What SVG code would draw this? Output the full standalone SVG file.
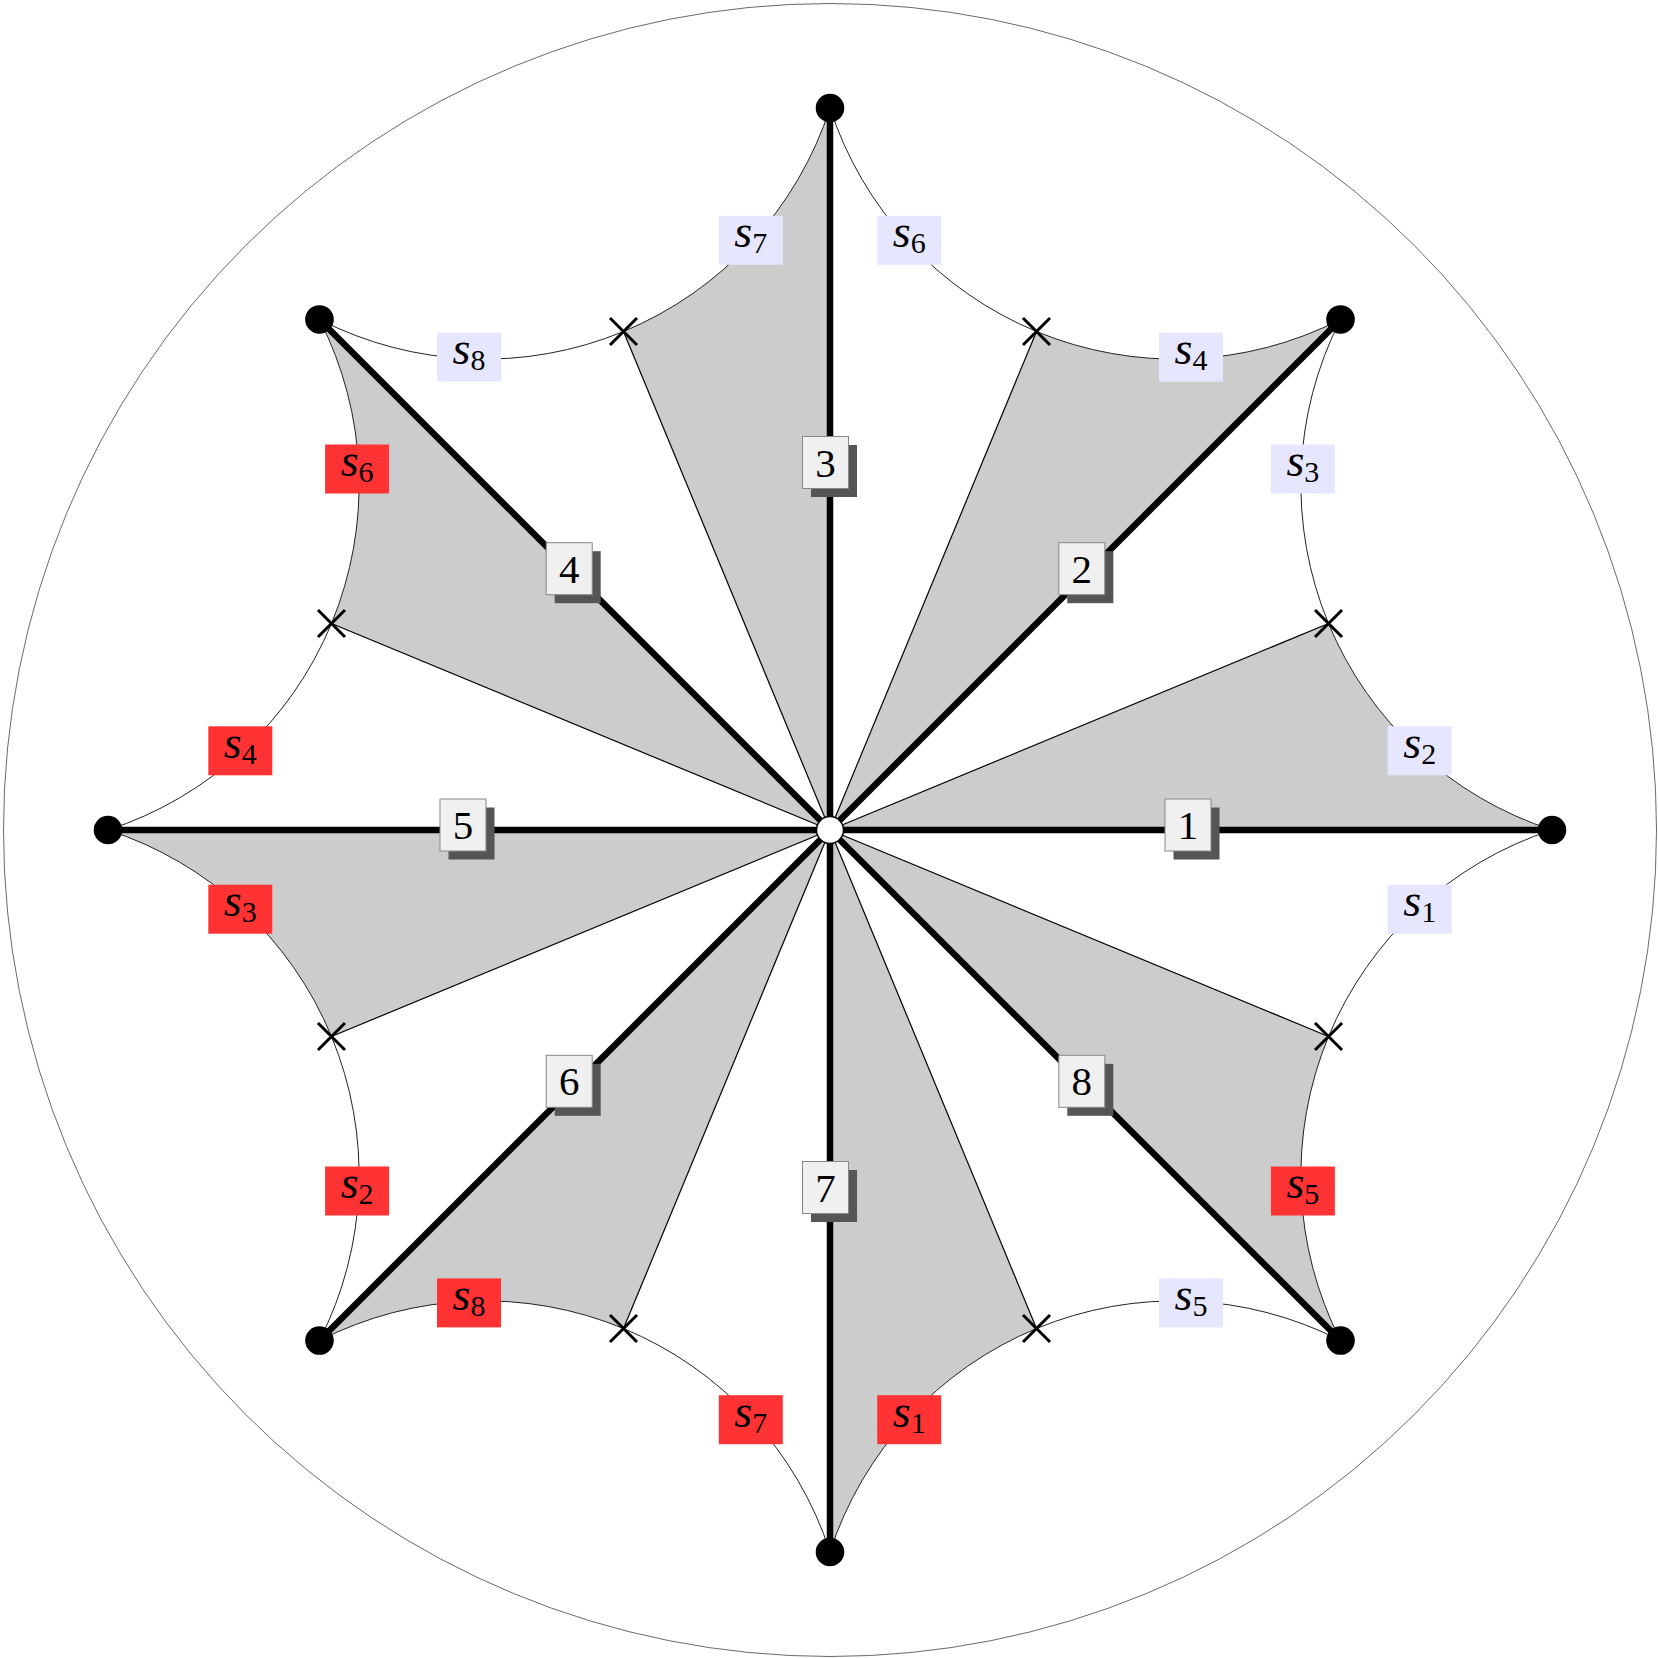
<svg xmlns="http://www.w3.org/2000/svg" xmlns:xlink="http://www.w3.org/1999/xlink" width="1658" height="1658" viewBox="0 0 1658 1658">
<style>
.bg{fill:#fff}
.disk{fill:none;stroke:#444;stroke-width:0.8}
.shade{fill:#cccccc;stroke:none}
.arc{fill:none;stroke:#222;stroke-width:1}
.edge{stroke:#000;stroke-width:1.2}
.spoke{stroke:#000;stroke-width:6.5}
.xm{stroke:#000;stroke-width:3;fill:none}
.vtx{fill:#000}
.ctr{fill:#fff;stroke:#000;stroke-width:1.5}
.lb{fill:#e6e6ff}
.lr{fill:#ff3333}
.box{fill:#f0f0f0;stroke:#888;stroke-width:1}
.shadow{fill:#555}
.s{font-family:"Liberation Serif","Times New Roman",serif;font-size:46px;fill:#000}
.si{font-style:italic}
.sub{font-size:30px}
.num{font-family:"Liberation Serif","Times New Roman",serif;font-size:41px;fill:#000;text-anchor:middle}
</style>
<defs>
<path id="xmark" class="xm" d="M-13.5,-13.5 L13.5,13.5 M-13.5,13.5 L13.5,-13.5"/>
<rect id="sl" x="-32" y="-24.5" width="64" height="49"/>
</defs>
<rect class="bg" x="0" y="0" width="1658" height="1658"/>
<circle id="disk" class="disk" cx="830" cy="830" r="826.5"/>

<g id="shaded">
<path class="shade" d="M830,830 L1328.53,623.50 A363.2,363.2 0 0 0 1552,830 Z"/>
<path class="shade" d="M830,830 L1036.50,331.47 A363.2,363.2 0 0 0 1340.53,319.47 Z"/>
<path class="shade" d="M830,830 L623.50,331.47 A363.2,363.2 0 0 0 830,108 Z"/>
<path class="shade" d="M830,830 L331.47,623.50 A363.2,363.2 0 0 0 319.47,319.47 Z"/>
<path class="shade" d="M830,830 L331.47,1036.50 A363.2,363.2 0 0 0 108,830 Z"/>
<path class="shade" d="M830,830 L623.50,1328.53 A363.2,363.2 0 0 0 319.47,1340.53 Z"/>
<path class="shade" d="M830,830 L1036.50,1328.53 A363.2,363.2 0 0 0 830,1552 Z"/>
<path class="shade" d="M830,830 L1328.53,1036.50 A363.2,363.2 0 0 0 1340.53,1340.53 Z"/>
</g>

<g id="connectors">
<path class="arc" d="M1552,830 A363.2,363.2 0 0 1 1340.53,319.47 A363.2,363.2 0 0 1 830,108 A363.2,363.2 0 0 1 319.47,319.47 A363.2,363.2 0 0 1 108,830 A363.2,363.2 0 0 1 319.47,1340.53 A363.2,363.2 0 0 1 830,1552 A363.2,363.2 0 0 1 1340.53,1340.53 A363.2,363.2 0 0 1 1552,830"/>
<line class="edge" x1="830" y1="830" x2="1328.53" y2="623.50"/>
<line class="edge" x1="830" y1="830" x2="1036.50" y2="331.47"/>
<line class="edge" x1="830" y1="830" x2="623.50" y2="331.47"/>
<line class="edge" x1="830" y1="830" x2="331.47" y2="623.50"/>
<line class="edge" x1="830" y1="830" x2="331.47" y2="1036.50"/>
<line class="edge" x1="830" y1="830" x2="623.50" y2="1328.53"/>
<line class="edge" x1="830" y1="830" x2="1036.50" y2="1328.53"/>
<line class="edge" x1="830" y1="830" x2="1328.53" y2="1036.50"/>
<line class="spoke" x1="830" y1="830" x2="1552" y2="830"/>
<line class="spoke" x1="830" y1="830" x2="1340.53" y2="319.47"/>
<line class="spoke" x1="830" y1="830" x2="830" y2="108"/>
<line class="spoke" x1="830" y1="830" x2="319.47" y2="319.47"/>
<line class="spoke" x1="830" y1="830" x2="108" y2="830"/>
<line class="spoke" x1="830" y1="830" x2="319.47" y2="1340.53"/>
<line class="spoke" x1="830" y1="830" x2="830" y2="1552"/>
<line class="spoke" x1="830" y1="830" x2="1340.53" y2="1340.53"/>
</g>

<g id="crosses">
<use href="#xmark" x="1328.53" y="623.50"/>
<use href="#xmark" x="1036.50" y="331.47"/>
<use href="#xmark" x="623.50" y="331.47"/>
<use href="#xmark" x="331.47" y="623.50"/>
<use href="#xmark" x="331.47" y="1036.50"/>
<use href="#xmark" x="623.50" y="1328.53"/>
<use href="#xmark" x="1036.50" y="1328.53"/>
<use href="#xmark" x="1328.53" y="1036.50"/>
</g>

<g id="arc-labels">
<g id="lab-b-s2"><use href="#sl" class="lb" x="1419.7" y="750.8"/><text class="s" x="1419.7" y="757.8" text-anchor="middle"><tspan class="si">s</tspan><tspan class="sub" dy="6">2</tspan></text></g>
<g id="lab-b-s3"><use href="#sl" class="lb" x="1302.9" y="469.0"/><text class="s" x="1302.9" y="476.0" text-anchor="middle"><tspan class="si">s</tspan><tspan class="sub" dy="6">3</tspan></text></g>
<g id="lab-b-s4"><use href="#sl" class="lb" x="1191.0" y="357.1"/><text class="s" x="1191.0" y="364.1" text-anchor="middle"><tspan class="si">s</tspan><tspan class="sub" dy="6">4</tspan></text></g>
<g id="lab-b-s6"><use href="#sl" class="lb" x="909.2" y="240.3"/><text class="s" x="909.2" y="247.3" text-anchor="middle"><tspan class="si">s</tspan><tspan class="sub" dy="6">6</tspan></text></g>
<g id="lab-b-s7"><use href="#sl" class="lb" x="750.8" y="240.3"/><text class="s" x="750.8" y="247.3" text-anchor="middle"><tspan class="si">s</tspan><tspan class="sub" dy="6">7</tspan></text></g>
<g id="lab-b-s8"><use href="#sl" class="lb" x="469.0" y="357.1"/><text class="s" x="469.0" y="364.1" text-anchor="middle"><tspan class="si">s</tspan><tspan class="sub" dy="6">8</tspan></text></g>
<g id="lab-r-s6"><use href="#sl" class="lr" x="357.1" y="469.0"/><text class="s" x="357.1" y="476.0" text-anchor="middle"><tspan class="si">s</tspan><tspan class="sub" dy="6">6</tspan></text></g>
<g id="lab-r-s4"><use href="#sl" class="lr" x="240.3" y="750.8"/><text class="s" x="240.3" y="757.8" text-anchor="middle"><tspan class="si">s</tspan><tspan class="sub" dy="6">4</tspan></text></g>
<g id="lab-r-s3"><use href="#sl" class="lr" x="240.3" y="909.2"/><text class="s" x="240.3" y="916.2" text-anchor="middle"><tspan class="si">s</tspan><tspan class="sub" dy="6">3</tspan></text></g>
<g id="lab-r-s2"><use href="#sl" class="lr" x="357.1" y="1191.0"/><text class="s" x="357.1" y="1198.0" text-anchor="middle"><tspan class="si">s</tspan><tspan class="sub" dy="6">2</tspan></text></g>
<g id="lab-r-s8"><use href="#sl" class="lr" x="469.0" y="1302.9"/><text class="s" x="469.0" y="1309.9" text-anchor="middle"><tspan class="si">s</tspan><tspan class="sub" dy="6">8</tspan></text></g>
<g id="lab-r-s7"><use href="#sl" class="lr" x="750.8" y="1419.7"/><text class="s" x="750.8" y="1426.7" text-anchor="middle"><tspan class="si">s</tspan><tspan class="sub" dy="6">7</tspan></text></g>
<g id="lab-r-s1"><use href="#sl" class="lr" x="909.2" y="1419.7"/><text class="s" x="909.2" y="1426.7" text-anchor="middle"><tspan class="si">s</tspan><tspan class="sub" dy="6">1</tspan></text></g>
<g id="lab-b-s5"><use href="#sl" class="lb" x="1191.0" y="1302.9"/><text class="s" x="1191.0" y="1309.9" text-anchor="middle"><tspan class="si">s</tspan><tspan class="sub" dy="6">5</tspan></text></g>
<g id="lab-r-s5"><use href="#sl" class="lr" x="1302.9" y="1191.0"/><text class="s" x="1302.9" y="1198.0" text-anchor="middle"><tspan class="si">s</tspan><tspan class="sub" dy="6">5</tspan></text></g>
<g id="lab-b-s1"><use href="#sl" class="lb" x="1419.7" y="909.2"/><text class="s" x="1419.7" y="916.2" text-anchor="middle"><tspan class="si">s</tspan><tspan class="sub" dy="6">1</tspan></text></g>
</g>

<g id="edge-labels">
<g id="e1"><rect class="shadow" x="1173.5" y="807.5" width="46" height="52"/><rect class="box" x="1165" y="799" width="46" height="52"/><text class="num" x="1188" y="839">1</text></g>
<g id="e2"><rect class="shadow" x="1067.3" y="551.2" width="46" height="52"/><rect class="box" x="1058.8" y="542.7" width="46" height="52"/><text class="num" x="1081.8" y="582.7">2</text></g>
<g id="e3"><rect class="shadow" x="811" y="445" width="46" height="52"/><rect class="box" x="802.5" y="436.5" width="46" height="52"/><text class="num" x="825.5" y="476.5">3</text></g>
<g id="e4"><rect class="shadow" x="554.7" y="551.2" width="46" height="52"/><rect class="box" x="546.2" y="542.7" width="46" height="52"/><text class="num" x="569.2" y="582.7">4</text></g>
<g id="e5"><rect class="shadow" x="448.5" y="807.5" width="46" height="52"/><rect class="box" x="440" y="799" width="46" height="52"/><text class="num" x="463" y="839">5</text></g>
<g id="e6"><rect class="shadow" x="554.7" y="1063.8" width="46" height="52"/><rect class="box" x="546.2" y="1055.3" width="46" height="52"/><text class="num" x="569.2" y="1095.3">6</text></g>
<g id="e7"><rect class="shadow" x="811" y="1170" width="46" height="52"/><rect class="box" x="802.5" y="1161.5" width="46" height="52"/><text class="num" x="825.5" y="1201.5">7</text></g>
<g id="e8"><rect class="shadow" x="1067.3" y="1063.8" width="46" height="52"/><rect class="box" x="1058.8" y="1055.3" width="46" height="52"/><text class="num" x="1081.8" y="1095.3">8</text></g>
</g>

<g id="nodes">
<g id="n1"><circle class="vtx" cx="1552" cy="830" r="14.3"/></g>
<g id="n2"><circle class="vtx" cx="1340.53" cy="319.47" r="14.3"/></g>
<g id="n3"><circle class="vtx" cx="830" cy="108" r="14.3"/></g>
<g id="n4"><circle class="vtx" cx="319.47" cy="319.47" r="14.3"/></g>
<g id="n5"><circle class="vtx" cx="108" cy="830" r="14.3"/></g>
<g id="n6"><circle class="vtx" cx="319.47" cy="1340.53" r="14.3"/></g>
<g id="n7"><circle class="vtx" cx="830" cy="1552" r="14.3"/></g>
<g id="n8"><circle class="vtx" cx="1340.53" cy="1340.53" r="14.3"/></g>
<g id="center"><circle class="ctr" cx="830" cy="830" r="13.5"/></g>
</g>
</svg>
